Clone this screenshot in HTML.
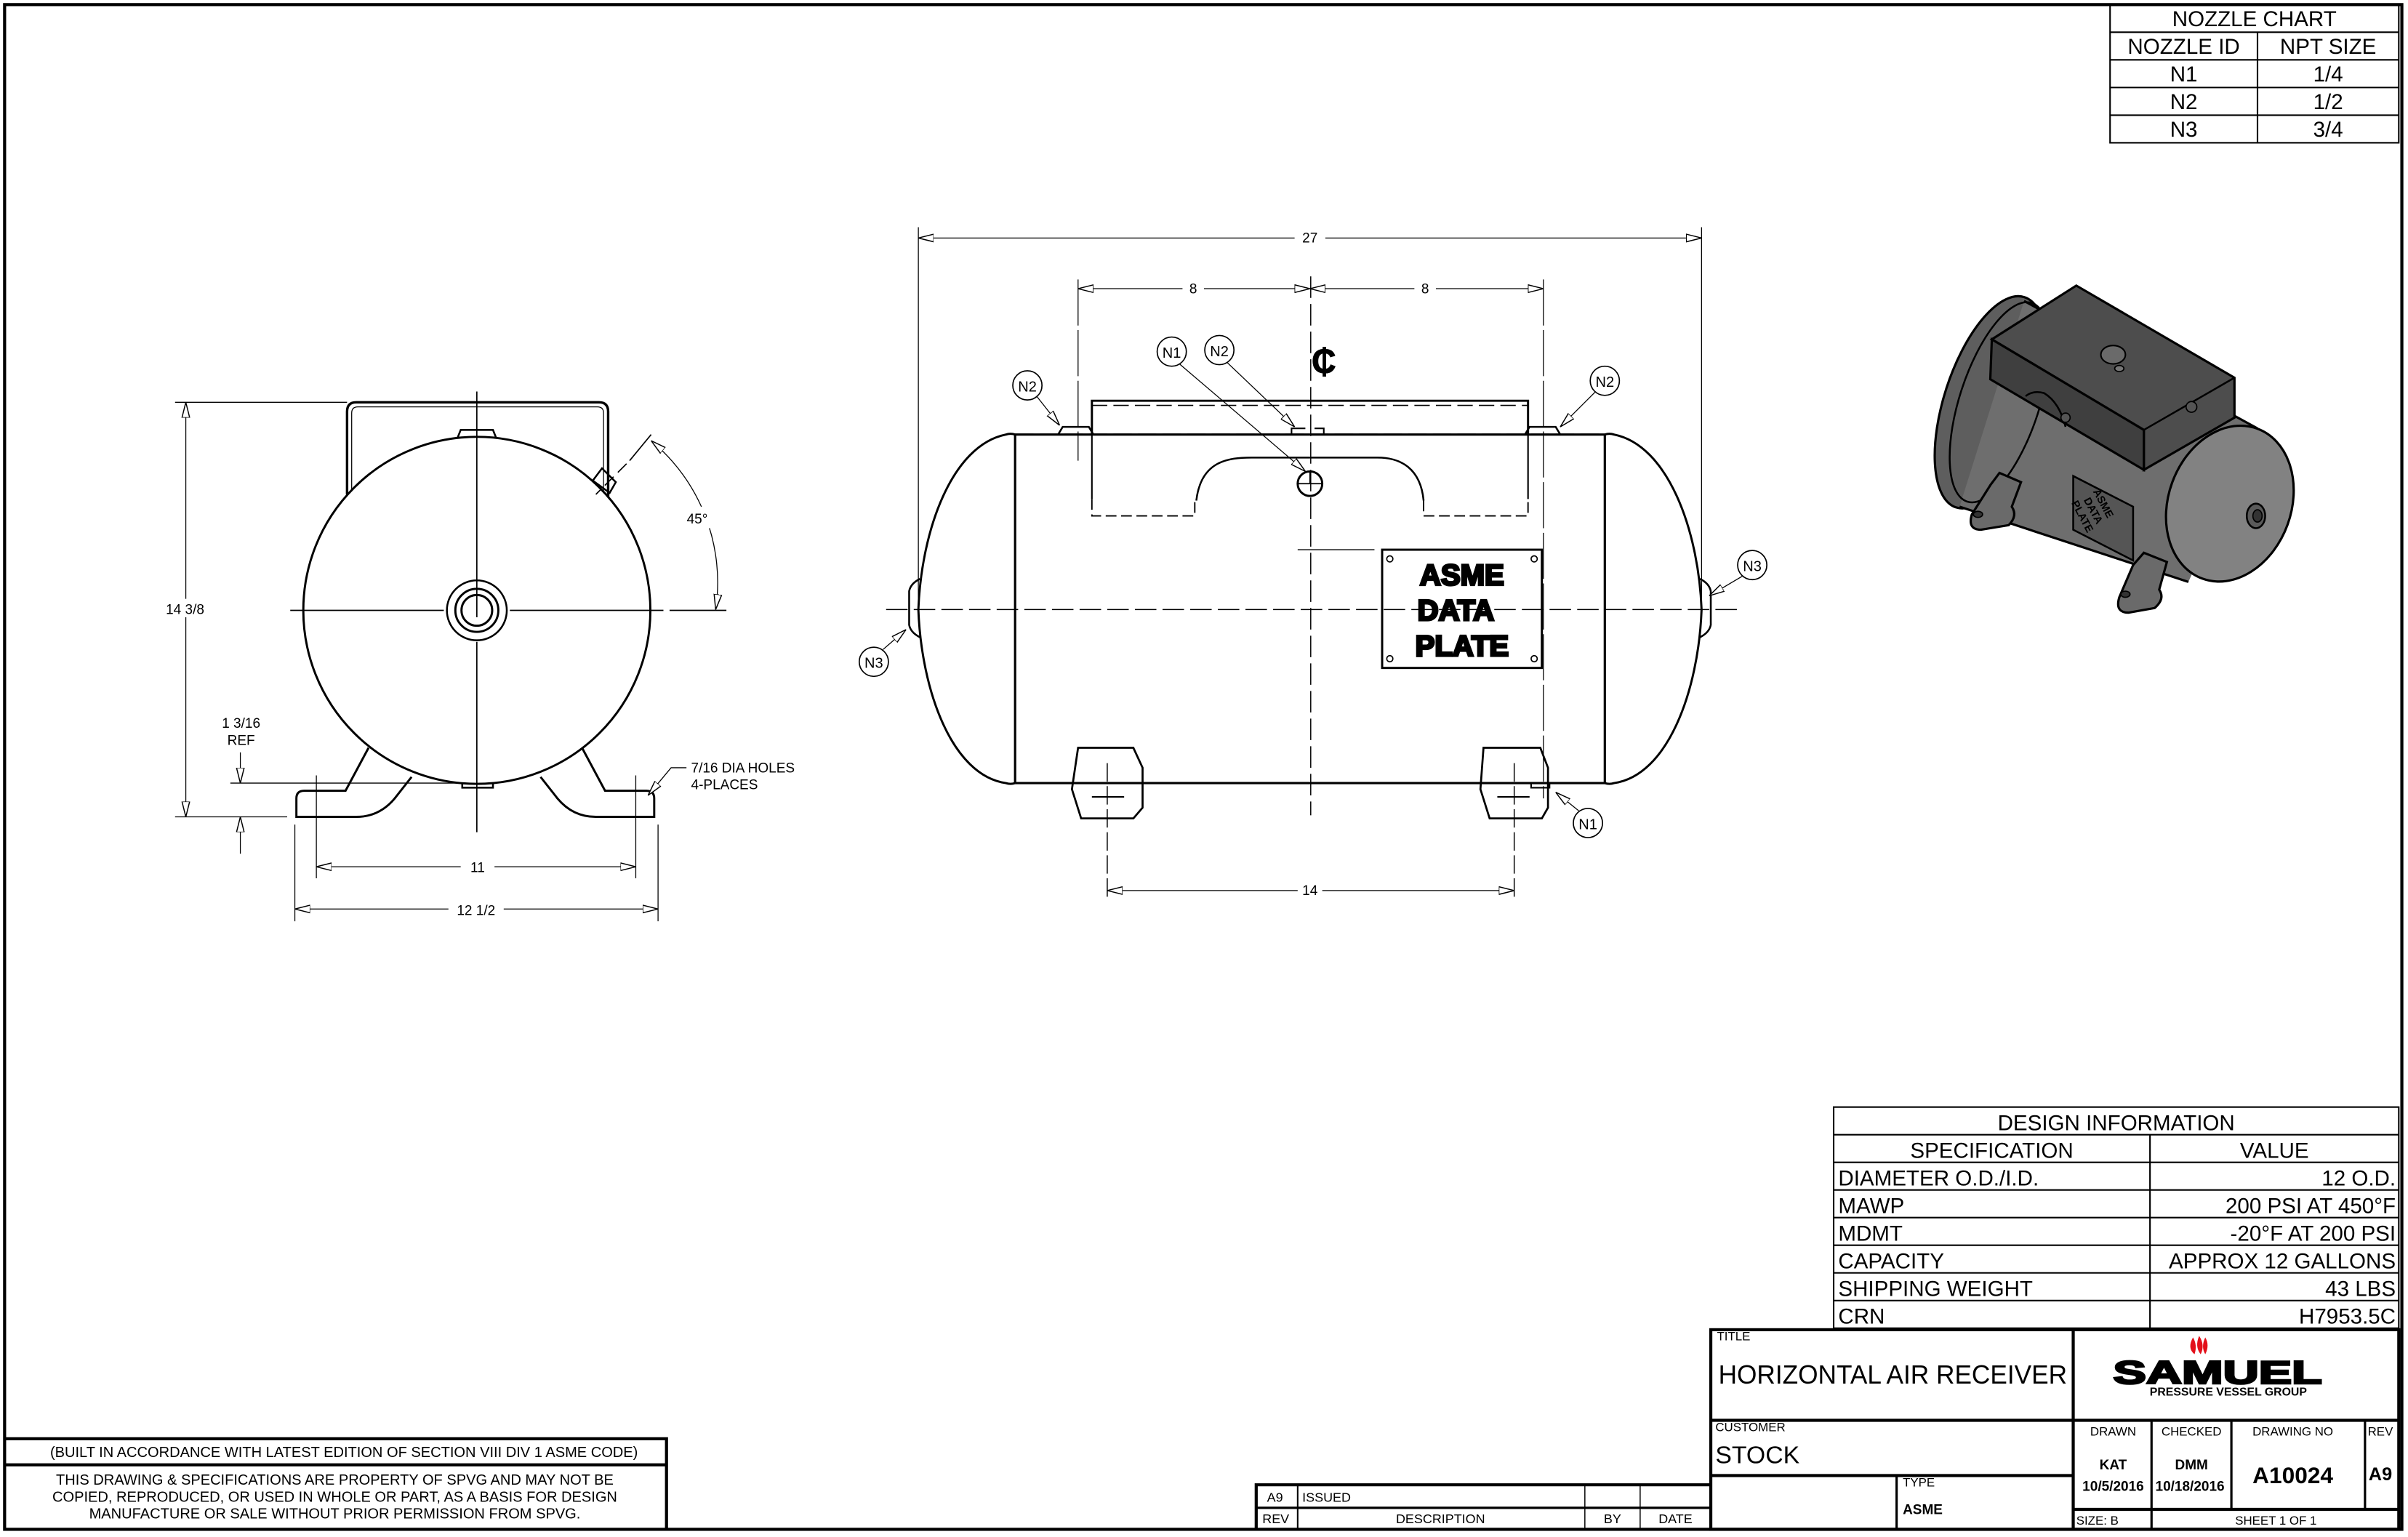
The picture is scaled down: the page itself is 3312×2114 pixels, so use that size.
<!DOCTYPE html>
<html><head><meta charset="utf-8"><style>
html,body{margin:0;padding:0;background:#fff}
svg{display:block}
text{font-family:"Liberation Sans",sans-serif;fill:#000}
</style></head><body>
<svg width="3312" height="2114" viewBox="0 0 1568 1001" preserveAspectRatio="none" xmlns="http://www.w3.org/2000/svg">
<defs>
<marker id="a" viewBox="0 0 10 6" refX="10" refY="3" markerWidth="10" markerHeight="6" orient="auto-start-reverse" markerUnits="userSpaceOnUse">
<path d="M0,0.5 L10,3 L0,5.5 Z" fill="#fff" stroke="#000" stroke-width="0.7"/></marker>
</defs>
<rect x="0" y="0" width="1568" height="1001" fill="#fff"/>
<rect x="3" y="3" width="1561" height="993" fill="none" stroke="#000" stroke-width="2"/>

<!-- NOZZLE CHART -->
<g stroke="#000" stroke-width="1" fill="none">
<rect x="1374" y="3" width="188" height="90"/>
<line x1="1374" y1="21" x2="1562" y2="21"/><line x1="1374" y1="39" x2="1562" y2="39"/>
<line x1="1374" y1="57" x2="1562" y2="57"/><line x1="1374" y1="75" x2="1562" y2="75"/>
<line x1="1470" y1="21" x2="1470" y2="93"/>
</g>
<g font-size="14" text-anchor="middle">
<text x="1468" y="17">NOZZLE CHART</text>
<text x="1422" y="35">NOZZLE ID</text><text x="1516" y="35">NPT SIZE</text>
<text x="1422" y="53">N1</text><text x="1516" y="53">1/4</text>
<text x="1422" y="71">N2</text><text x="1516" y="71">1/2</text>
<text x="1422" y="89">N3</text><text x="1516" y="89">3/4</text>
</g>

<!-- DESIGN INFO -->
<g stroke="#000" stroke-width="1" fill="none">
<rect x="1194" y="721" width="368" height="144"/>
<line x1="1194" y1="739" x2="1562" y2="739"/><line x1="1194" y1="757" x2="1562" y2="757"/>
<line x1="1194" y1="775" x2="1562" y2="775"/><line x1="1194" y1="793" x2="1562" y2="793"/>
<line x1="1194" y1="811" x2="1562" y2="811"/><line x1="1194" y1="829" x2="1562" y2="829"/>
<line x1="1194" y1="847" x2="1562" y2="847"/>
<line x1="1400" y1="739" x2="1400" y2="865"/>
</g>
<g font-size="14">
<text x="1378" y="736" text-anchor="middle">DESIGN INFORMATION</text>
<text x="1297" y="754" text-anchor="middle">SPECIFICATION</text>
<text x="1481" y="754" text-anchor="middle">VALUE</text>
<text x="1197" y="772">DIAMETER O.D./I.D.</text>
<text x="1197" y="790">MAWP</text>
<text x="1197" y="808">MDMT</text>
<text x="1197" y="826">CAPACITY</text>
<text x="1197" y="844">SHIPPING WEIGHT</text>
<text x="1197" y="862">CRN</text>
<g text-anchor="end">
<text x="1560" y="772">12 O.D.</text>
<text x="1560" y="790">200 PSI AT 450°F</text>
<text x="1560" y="808">-20°F AT 200 PSI</text>
<text x="1560" y="826">APPROX 12 GALLONS</text>
<text x="1560" y="844">43 LBS</text>
<text x="1560" y="862">H7953.5C</text>
</g></g>

<!-- TITLE BLOCK -->
<g stroke="#000" fill="none">
<rect x="1114" y="866" width="448" height="130" stroke-width="2"/>
<line x1="1350" y1="866" x2="1350" y2="996" stroke-width="2"/>
<line x1="1114" y1="925" x2="1562" y2="925" stroke-width="2"/>
<line x1="1114" y1="961" x2="1350" y2="961" stroke-width="2"/>
<line x1="1235" y1="961" x2="1235" y2="996" stroke-width="1.5"/>
<line x1="1350" y1="983" x2="1562" y2="983" stroke-width="2"/>
<line x1="1401" y1="925" x2="1401" y2="996" stroke-width="1.5"/>
<line x1="1453" y1="925" x2="1453" y2="983" stroke-width="1.5"/>
<line x1="1540" y1="925" x2="1540" y2="983" stroke-width="1.5"/>
</g>
<text x="1118" y="873" font-size="8">TITLE</text>
<text x="1119" y="901" font-size="17" textLength="227" lengthAdjust="spacingAndGlyphs">HORIZONTAL AIR RECEIVER</text>
<text x="1117" y="932" font-size="8">CUSTOMER</text>
<text x="1117" y="953" font-size="16">STOCK</text>
<text x="1239" y="968" font-size="8">TYPE</text>
<text x="1239" y="986" font-size="9" font-weight="bold">ASME</text>
<g font-size="8" text-anchor="middle">
<text x="1376" y="935">DRAWN</text><text x="1427" y="935">CHECKED</text>
<text x="1493" y="935">DRAWING NO</text><text x="1550" y="935">REV</text>
</g>
<g font-size="9" font-weight="bold" text-anchor="middle">
<text x="1376" y="957">KAT</text><text x="1427" y="957">DMM</text>
<text x="1376" y="971">10/5/2016</text><text x="1426" y="971">10/18/2016</text>
<text x="1493" y="966" font-size="15">A10024</text><text x="1550" y="964" font-size="12">A9</text>
</g>
<text x="1352" y="993" font-size="8">SIZE: B</text>
<text x="1482" y="993" font-size="8" text-anchor="middle">SHEET 1  OF 1</text>
<g>
<path d="M1428,871 q3,5 1,11 q-5,-4 -1,-11z M1432,870 q4,6 1,12 q-4,-5 -1,-12z M1436,871 q3,5 0,11 q-3,-5 0,-11z" fill="#e3101a"/>
<text x="1444" y="901" font-size="21" font-weight="bold" text-anchor="middle" textLength="136" lengthAdjust="spacingAndGlyphs" stroke="#000" stroke-width="1.2">SAMUEL</text>
<text x="1451" y="909" font-size="7.5" font-weight="bold" text-anchor="middle" fill="#222">PRESSURE VESSEL GROUP</text>
</g>

<!-- REV BLOCK -->
<g stroke="#000" fill="none">
<path d="M818,996 V967 H1114" stroke-width="2"/>
<line x1="818" y1="982" x2="1114" y2="982" stroke-width="1.5"/>
<line x1="845" y1="967" x2="845" y2="996"/>
<line x1="1032" y1="967" x2="1032" y2="996" stroke-width="0.7"/>
<line x1="1068" y1="967" x2="1068" y2="996" stroke-width="0.7"/>
</g>
<g font-size="8.5">
<text x="825" y="978">A9</text><text x="848" y="978">ISSUED</text>
<text x="822" y="992">REV</text><text x="938" y="992" text-anchor="middle">DESCRIPTION</text>
<text x="1050" y="992" text-anchor="middle">BY</text><text x="1091" y="992" text-anchor="middle">DATE</text>
</g>

<!-- LEFT NOTES -->
<g stroke="#000" fill="none" stroke-width="2">
<path d="M3,937 H434 V996"/><line x1="3" y1="954" x2="434" y2="954"/>
</g>
<g font-size="9.5" text-anchor="middle">
<text x="224" y="949">(BUILT IN ACCORDANCE WITH LATEST EDITION OF SECTION VIII DIV 1 ASME CODE)</text>
<text x="218" y="967">THIS DRAWING &amp; SPECIFICATIONS ARE PROPERTY OF SPVG AND MAY NOT BE</text>
<text x="218" y="978">COPIED, REPRODUCED, OR USED IN WHOLE OR PART, AS A BASIS FOR DESIGN</text>
<text x="218" y="989">MANUFACTURE OR SALE WITHOUT PRIOR PERMISSION FROM SPVG.</text>
</g>

<!-- FRONT VIEW -->
<g stroke="#000" fill="none">
<path d="M226,322 V268 q0,-6 6,-6 H390 q6,0 6,6 V326" stroke-width="1.6"/>
<path d="M229,322 V269 q0,-4 4,-4 H389 q4,0 4,4 V326" stroke-width="0.6"/>
<circle cx="310.5" cy="397.5" r="113" stroke-width="1.4" fill="#fff"/>
<path d="M298,285 l2,-5 h21 l2,5" stroke-width="1.2"/>
<path d="M301,510 v3 h20 v-3" stroke-width="1.2"/>
<path d="M386,313 l6,-8 l9,9 l-4,7 z" stroke-width="1.2"/>
<circle cx="310.5" cy="397.5" r="19.5" stroke-width="1.2"/>
<circle cx="310.5" cy="397.5" r="14" stroke-width="1.4"/>
<circle cx="310.5" cy="397.5" r="10" stroke-width="1.4"/>
<path d="M240,487 L225,515 H198 q-5,0 -5,5 V532 H232 q15,0 25,-12 L268,506" stroke-width="1.4"/>
<path d="M379,487 L394,515 H421 q5,0 5,5 V532 H388 q-15,0 -25,-12 L352,506" stroke-width="1.4"/>
<path d="M310.5,255 V402 M310.5,418 V542 M189,397.5 H289 M332,397.5 H432" stroke-width="0.8"/>
<path d="M436,397.5 H473" stroke-width="0.8"/>
<path d="M408,302 L388,322" stroke-width="0.8" stroke-dasharray="8,4"/>
<path d="M424,283 L410,300" stroke-width="0.8"/>
<path d="M114,262 H226" stroke-width="0.6"/><path d="M114,532 H187" stroke-width="0.6"/>
<line x1="121" y1="262" x2="121" y2="532" stroke-width="0.6" marker-start="url(#a)" marker-end="url(#a)"/>
<path d="M150,510 H300" stroke-width="0.6"/>
<line x1="156.5" y1="490" x2="156.5" y2="510" stroke-width="0.6" marker-end="url(#a)"/>
<line x1="156.5" y1="556" x2="156.5" y2="532" stroke-width="0.6" marker-end="url(#a)"/>
<path d="M206,505 V572 M414,505 V572 M192,537 V600 M428.5,537 V600" stroke-width="0.6"/>
<line x1="206" y1="564.5" x2="414" y2="564.5" stroke-width="0.6" marker-start="url(#a)" marker-end="url(#a)"/>
<line x1="192" y1="592" x2="428.5" y2="592" stroke-width="0.6" marker-start="url(#a)" marker-end="url(#a)"/>
<path d="M424,287 A120,120 0 0 1 466,397" stroke-width="0.6" marker-start="url(#a)" marker-end="url(#a)"/>
<path d="M447,500 H437 L422,518" stroke-width="0.6" marker-end="url(#a)"/>
</g>
<rect x="300" y="559" width="22" height="11" fill="#fff"/>
<rect x="292" y="586" width="36" height="11" fill="#fff"/>
<rect x="445" y="330" width="20" height="14" fill="#fff"/>
<rect x="104" y="390" width="32" height="12" fill="#fff"/>
<g font-size="9">
<text x="108" y="400">14 3/8</text>
<text x="311" y="568" text-anchor="middle">11</text>
<text x="310" y="596" text-anchor="middle">12 1/2</text>
<text x="454" y="341" text-anchor="middle">45°</text>
<text x="157" y="474" text-anchor="middle">1 3/16</text>
<text x="157" y="485" text-anchor="middle">REF</text>
<text x="450" y="503">7/16 DIA HOLES</text>
<text x="450" y="514">4-PLACES</text>
</g>

<!-- SIDE VIEW -->
<g stroke="#000" fill="none">
<path d="M661,283 H1045 M661,510 H1045" stroke-width="1.5"/>
<path d="M661,283 V510 M1045,283 V510" stroke-width="1.5"/>
<path d="M661,283 q-3,-1 -6,0 C620,290 600,345 598,397 C600,450 620,505 655,510 q3,1 6,0" stroke-width="1.4"/>
<path d="M1045,283 q3,-1 6,0 C1086,290 1106,345 1108,397 C1106,450 1086,505 1051,510 q-3,1 -6,0" stroke-width="1.4"/>
<path d="M599,377 q-6,3 -7,8 v22 q1,5 7,8" stroke-width="1.2"/>
<path d="M1107,377 q6,3 7,8 v22 q-1,5 -7,8" stroke-width="1.2"/>
<path d="M711,283 V261 H995 V283" stroke-width="1.4"/>
<path d="M711,264 H995" stroke-width="0.8" stroke-dasharray="10,4"/>
<path d="M661,283 H1045" stroke-width="1.2" stroke-dasharray="12,4"/>
<path d="M711,283 V325 M995,283 V325" stroke-width="1"/>
<path d="M711,325 V336 H778 V326 M927,326 V336 H995 V325" stroke-width="0.9" stroke-dasharray="7,3"/>
<path d="M779,326 C782,300 800,298 815,298 H897 C912,298 925,305 927,326" stroke-width="1.2"/>
<path d="M689,283 l3,-5 h17 l3,5 M993,283 l3,-5 h17 l3,5" stroke-width="1.2"/>
<path d="M841,283 v-4 h9 M856,279 h6 v4" stroke-width="1"/>
<circle cx="853" cy="315" r="8" stroke-width="1.4"/>
<path d="M845,315 H861 M853,307 v8" stroke-width="0.8"/>
<rect x="900" y="358" width="104" height="77" stroke-width="1.4"/>
<circle cx="905" cy="364" r="2" stroke-width="0.8"/><circle cx="999" cy="364" r="2" stroke-width="0.8"/>
<circle cx="905" cy="429" r="2" stroke-width="0.8"/><circle cx="999" cy="429" r="2" stroke-width="0.8"/>
<path d="M702,487 H738 L744,500 V526 L738,533 H704 L698,514 Z" stroke-width="1.3"/>
<path d="M966,487 H1003 L1008,500 V526 L1004,533 H970 L964,514 Z" stroke-width="1.3"/>
<path d="M711,519 H732 M975,519 H996" stroke-width="1"/>
<path d="M997,510 h12 v3 h-12z" stroke-width="1"/>
<path d="M577,397 H1132" stroke-width="0.7" stroke-dasharray="14,4"/>
<path d="M853.5,180 V531" stroke-width="0.7" stroke-dasharray="14,4"/>
<path d="M721,497 V586 M986,497 V586" stroke-width="0.7" stroke-dasharray="12,3"/>
<path d="M702,182 V300 M1005,182 V520" stroke-width="0.6" stroke-dasharray="30,3"/>
<path d="M598,148 V395 M1108,148 V395" stroke-width="0.6"/>
<path d="M845,358 H895" stroke-width="0.6"/>
<line x1="598" y1="155" x2="1108" y2="155" stroke-width="0.6" marker-start="url(#a)" marker-end="url(#a)"/>
<line x1="702" y1="188" x2="853" y2="188" stroke-width="0.6" marker-start="url(#a)" marker-end="url(#a)"/>
<line x1="853" y1="188" x2="1005" y2="188" stroke-width="0.6" marker-start="url(#a)" marker-end="url(#a)"/>
<line x1="721" y1="580" x2="986" y2="580" stroke-width="0.6" marker-start="url(#a)" marker-end="url(#a)"/>
<line x1="675" y1="258" x2="690" y2="277" stroke-width="0.6" marker-end="url(#a)"/>
<line x1="768" y1="237" x2="850" y2="307" stroke-width="0.6" marker-end="url(#a)"/>
<line x1="799" y1="236" x2="843" y2="278" stroke-width="0.6" marker-end="url(#a)"/>
<line x1="1039" y1="255" x2="1016" y2="278" stroke-width="0.6" marker-end="url(#a)"/>
<line x1="575" y1="423" x2="590" y2="410" stroke-width="0.6" marker-end="url(#a)"/>
<line x1="1135" y1="375" x2="1113" y2="388" stroke-width="0.6" marker-end="url(#a)"/>
<line x1="1028" y1="528" x2="1013" y2="516" stroke-width="0.6" marker-end="url(#a)"/>
<g stroke-width="0.8" fill="#fff">
<circle cx="669" cy="251" r="9.5"/><circle cx="763" cy="229" r="9.5"/><circle cx="794" cy="228" r="9.5"/>
<circle cx="1045" cy="248" r="9.5"/><circle cx="569" cy="431" r="9.5"/><circle cx="1034" cy="536" r="9.5"/>
<circle cx="1141" cy="368" r="9.5"/>
</g>
</g>
<rect x="843" y="150" width="20" height="10" fill="#fff"/>
<rect x="770" y="183" width="14" height="10" fill="#fff"/>
<rect x="921" y="183" width="14" height="10" fill="#fff"/>
<rect x="845" y="575" width="16" height="10" fill="#fff"/>
<g font-size="9" text-anchor="middle">
<text x="853" y="158">27</text><text x="777" y="191">8</text><text x="928" y="191">8</text><text x="853" y="583">14</text>
</g>
<g font-size="9.5" text-anchor="middle">
<text x="669" y="255">N2</text><text x="763" y="233">N1</text><text x="794" y="232">N2</text>
<text x="1045" y="252">N2</text><text x="569" y="435">N3</text><text x="1034" y="540">N1</text><text x="1141" y="372">N3</text>
</g>
<text x="862" y="243" font-size="22" font-weight="bold" text-anchor="middle" stroke="#000" stroke-width="0.5">₵</text>
<g font-size="19" font-weight="bold" text-anchor="middle" stroke="#000" stroke-width="1.5" style="paint-order:stroke">
<text x="952" y="381" fill="#000">ASME</text><text x="948" y="404" fill="#000">DATA</text><text x="952" y="427" fill="#000">PLATE</text>
</g>

<!-- ISO VIEW -->
<g stroke="#000" stroke-width="1.5">
<ellipse cx="1296" cy="262" rx="30" ry="72" transform="rotate(18 1296 262)" fill="#5e5e5e"/>
<path d="M1318,196 L1470,279 L1425,379 L1276,330 Z" fill="#6e6e6e" stroke="none"/>
<path d="M1318,196 L1470,279 M1276,330 L1425,379" fill="none"/>
<ellipse cx="1302" cy="262" rx="26" ry="68" transform="rotate(18 1302 262)" fill="none" stroke-width="1.2"/>
<!-- feet (in front) -->
<path d="M1296,316 L1302,308 L1316,314 L1310,330 q4,6 -2,12 L1290,345 q-9,0 -6,-10 Z" fill="#6a6a6a"/>
<ellipse cx="1288" cy="335" rx="3" ry="2" fill="#333" stroke-width="0.8"/>
<path d="M1389,368 L1396,360 L1411,366 L1406,384 q4,6 -3,12 L1386,399 q-9,0 -6,-10 Z" fill="#6a6a6a"/>
<ellipse cx="1384" cy="387" rx="3" ry="2" fill="#333" stroke-width="0.8"/>
<!-- box -->
<path d="M1297,221 L1352,186 L1455,246 L1455,272 L1396,306 L1396,280 Z" fill="#4d4d4d"/>
<path d="M1297,221 L1396,280 L1455,246 M1396,280 V306" fill="none" stroke-width="1.2"/>
<path d="M1297,221 L1396,280 L1396,306 L1296,247 Z" fill="#3f3f3f"/>
<path d="M1319,258 q5,-4 12,-2 q10,6 14,22" fill="none" stroke-width="1.2"/>
<ellipse cx="1376" cy="231" rx="8" ry="6" fill="#6a6a6a" stroke-width="1"/>
<ellipse cx="1380" cy="240" rx="3" ry="2" fill="#777" stroke-width="0.8"/>
<circle cx="1345" cy="272" r="3" fill="#555" stroke-width="0.8"/>
<circle cx="1427" cy="265" r="3.5" fill="#555" stroke-width="0.8"/>
<path d="M1350,310 L1389,330 L1389,365 L1350,345 Z" fill="#555" stroke-width="1.2"/>
<ellipse cx="1452" cy="328" rx="40" ry="52" transform="rotate(20 1452 328)" fill="#828282"/>
<ellipse cx="1469" cy="336" rx="6" ry="8" fill="#5a5a5a" stroke-width="1.2"/>
<ellipse cx="1470" cy="336" rx="3" ry="4" fill="#333" stroke-width="0.8"/>
</g>
<g font-size="7" font-weight="bold" fill="#222" transform="rotate(62 1369 336)">
<text x="1352" y="334">ASME</text><text x="1354" y="342">DATA</text><text x="1352" y="350">PLATE</text>
</g>
</svg>
</body></html>
